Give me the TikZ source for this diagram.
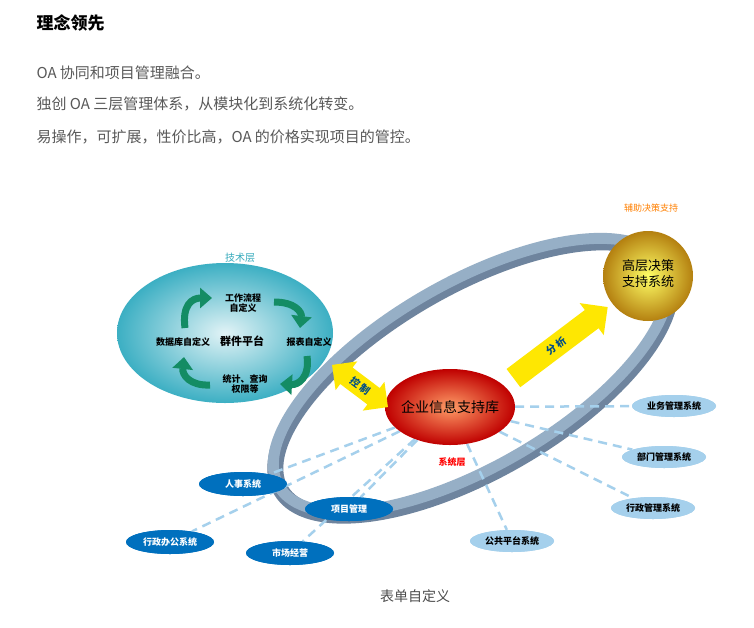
\documentclass[tikz,border=0pt]{standalone}
\usepackage{fontspec}
\setmainfont{Noto Sans CJK SC}
\usetikzlibrary{arrows.meta,shapes.arrows,shapes.geometric,calc}
\definecolor{ringc}{RGB}{150,175,198}
\definecolor{ringd}{RGB}{110,132,158}
\definecolor{dblue}{RGB}{0,112,190}
\definecolor{lblue}{RGB}{165,208,236}
\definecolor{gr}{RGB}{20,140,100}
\definecolor{gold}{RGB}{225,160,20}
\definecolor{aqua}{RGB}{60,175,195}
\tikzset{x=1pt,y=-1pt,
 sysd/.style={ellipse,fill=dblue,text=white,font=\fontsize{9}{10}\selectfont\bfseries,minimum width=88pt,minimum height=24pt,inner sep=0pt},
 sysl/.style={ellipse,fill=lblue,text=black,font=\fontsize{9}{10}\selectfont\bfseries,minimum width=84pt,minimum height=22pt,inner sep=0pt},
 link/.style={lblue,line width=2.5pt,dash pattern=on 9pt off 6pt},
 txt/.style={anchor=west,text=black!65,font=\fontsize{15}{17}\selectfont},
 cyc/.style={gr,line width=7pt,-{Triangle[length=12pt,width=20pt]}},
 lab/.style={font=\fontsize{9}{10}\selectfont\bfseries,align=center}}
\begin{document}
\begin{tikzpicture}
\useasboundingbox (0,0) rectangle (754,627);
\fill[white] (0,0) rectangle (754,627);
\node[anchor=west,font=\fontsize{17}{19}\selectfont\bfseries] (title) at (33,23) {理念领先};
\node[txt] (l1) at (33,73) {OA 协同和项目管理融合。};
\node[txt] (l2) at (33,104) {独创 OA 三层管理体系，从模块化到系统化转变。};
\node[txt] (l3) at (33,137) {易操作，可扩展，性价比高，OA 的价格实现项目的管控。};
% ring
\draw[ringd,line width=16pt] (473,379) ellipse[x radius=222,y radius=92,rotate=30];
\draw[ringc,line width=11pt] (471,375) ellipse[x radius=222,y radius=92,rotate=30];
% tech ellipse
\shade[inner color=white!85!aqua,outer color=aqua] (225,333) ellipse[x radius=108,y radius=70];
\node[text=aqua!90!teal,font=\fontsize{10}{11}\selectfont] (tech) at (240,258) {技术层};
\node[lab] (wf) at (243,303) {工作流程\\自定义};
\node[lab] (db) at (183,342) {数据库自定义};
\node[lab,font=\fontsize{11}{12}\selectfont\bfseries] (qp) at (242,341) {群件平台};
\node[lab] (bb) at (309,342) {报表自定义};
\node[lab] (tj) at (245,384) {统计、查询\\权限等};
\draw[cyc] (185,328) .. controls (182,305) and (192,298) .. (212,298);
\draw[cyc] (274,302) .. controls (295,302) and (302,312) .. (300,328);
\draw[cyc] (307,356) .. controls (310,378) and (298,385) .. (280,384);
\draw[cyc] (210,385) .. controls (190,386) and (182,375) .. (184,357);
% dashed links
\node[ellipse,minimum width=130pt,minimum height=76pt] (core) at (450,407) {};
\node[sysd] (rs) at (243,484) {人事系统};
\node[sysd] (xm) at (349,509) {项目管理};
\node[sysd] (xz) at (170,542) {行政办公系统};
\node[sysd] (sc) at (290,553) {市场经营};
\node[sysl] (yw) at (674,406) {业务管理系统};
\node[sysl] (bm) at (664,457) {部门管理系统};
\node[sysl] (xg) at (653,508) {行政管理系统};
\node[sysl] (gg) at (512,541) {公共平台系统};
\foreach \t in {rs,xm,xz,sc,yw,bm,xg,gg}{\draw[link] (core) -- (\t);}
\node[sysd] at (rs) {人事系统};
\node[sysd] at (xm) {项目管理};
\node[sysd] at (xz) {行政办公系统};
\node[sysd] at (sc) {市场经营};
\node[sysl] at (yw) {业务管理系统};
\node[sysl] at (bm) {部门管理系统};
\node[sysl] at (xg) {行政管理系统};
\node[sysl] at (gg) {公共平台系统};
\shade[inner color=red!30!orange!60!white,outer color=red!75!black,shading=radial] (450,407) ellipse[x radius=65,y radius=38];
\node[font=\fontsize{14}{15}\selectfont] (coret) at (450,407) {企业信息支持库};
\node[text=red,font=\fontsize{9}{10}\selectfont\bfseries] (xt) at (452,462) {系统层};
% top sphere
\shade[inner color=yellow!60!white,outer color=gold!80!black] (648,276) circle (45);
\node[font=\fontsize{13}{16}\selectfont,align=center] (top) at (648,274) {高层决策\\支持系统};
\node[text=orange,font=\fontsize{9}{10}\selectfont] (fz) at (651,208) {辅助决策支持};
% arrows
\node[single arrow,fill=yellow!90!orange,minimum height=118pt,minimum width=40pt,single arrow head extend=6pt,inner sep=3pt,rotate=37,font=\fontsize{10}{11}\selectfont\bfseries,text=dblue!70!black] (fx) at (556,346) {分\ 析};
\node[double arrow,fill=yellow!90!orange,minimum height=70pt,minimum width=36pt,double arrow head extend=6pt,inner sep=3pt,rotate=-37,font=\fontsize{10}{11}\selectfont\bfseries,text=dblue!70!black] (kz) at (360,386) {控\ 制};
\node[text=black!70,font=\fontsize{14}{15}\selectfont] (bd) at (415,596) {表单自定义};
\end{tikzpicture}
\end{document}
